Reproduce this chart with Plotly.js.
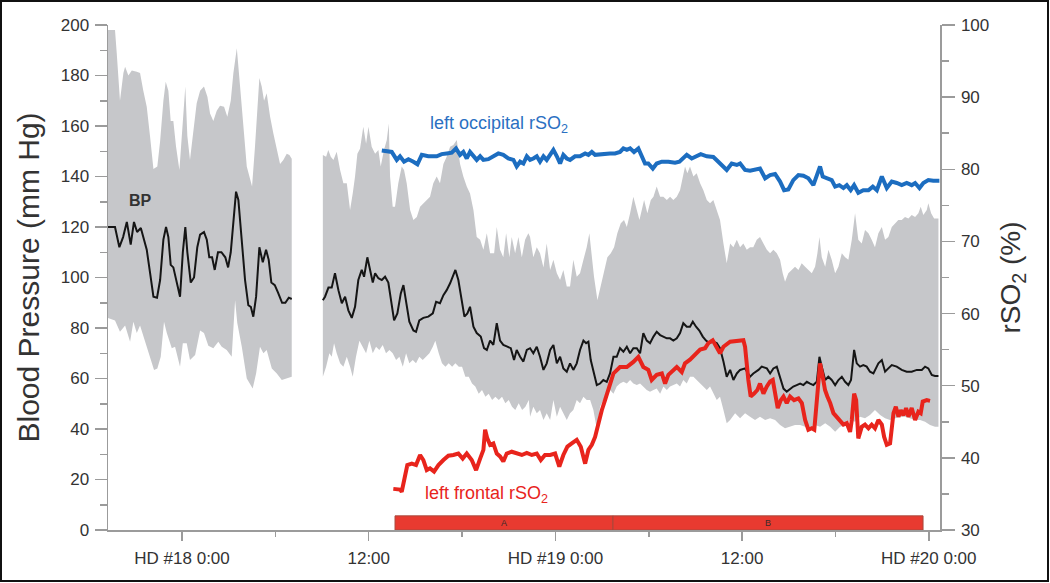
<!DOCTYPE html>
<html><head><meta charset="utf-8">
<script src="https://cdn.plot.ly/plotly-3.0.1.min.js"></script>
<style>
html,body{margin:0;padding:0;background:#fff;}
#wrap{position:relative;width:1050px;height:583px;}
#chart{width:1050px;height:583px;}
#frame{position:absolute;left:0;top:0;width:1049px;height:582px;border:2.5px solid #111;box-sizing:border-box;pointer-events:none;}
</style>
</head><body>
<div id="wrap"><div id="chart"></div><div id="frame"></div></div>
<script>
// Time in hours relative to HD #18 0:00
// ---- Blood pressure (mean), segment 1 ----
const bp1T = [-4.76,-4.31,-4.03,-3.79,-3.55,-3.30,-3.09,-2.89,-2.65,-2.51,-2.27,-2.06,-1.84,-1.61,-1.41,-1.20,-1.03,-0.88,-0.73,-0.56,-0.34,-0.13,0.05,0.21,0.34,0.56,0.77,0.98,1.16,1.41,1.59,1.75,1.93,2.10,2.31,2.53,2.78,2.96,3.13,3.30,3.47,3.62,3.84,4.05,4.26,4.42,4.58,4.76,4.97,5.19,5.40,5.57,5.74,5.96,6.17,6.43,6.64,6.86,7.05];
const bp1V = [120,120,112,116,122,113,122,118,119.6,116,111,102,92.4,92,99,115,120,116,105,104,98,92.4,110,120,110,98,100,112,117,118,115,108,108,103,110,110,108,104,110,123,134,130.7,115,99,89,88.4,84.5,92.4,112,106,111,107,98,97,94,90,90,92,91.5];
// ---- Blood pressure (mean), segment 2 ----
const bp2T = [9.05,9.19,9.41,9.62,9.83,10.05,10.27,10.48,10.69,10.91,11.12,11.33,11.55,11.70,11.91,12.08,12.26,12.41,12.62,12.84,13.05,13.26,13.48,13.63,13.84,14.06,14.23,14.40,14.61,14.87,15.04,15.25,15.51,15.83,16.12,16.33,16.58,16.80,17.01,17.23,17.40,17.57,17.76,17.98,18.15,18.34,18.51,18.73,18.94,19.20,19.41,19.59,19.80,20.01,20.23,20.44,20.65,20.91,21.13,21.34,21.51,21.73,21.94,22.16,
  22.37,22.58,22.80,23.01,23.23,23.44,23.66,23.87,24.09,24.30,24.51,24.73,24.94,25.15,25.37,25.58,25.80,25.97,26.12,26.27,26.48,26.66,26.87,27.08,27.30,27.51,27.73,27.94,28.15,28.37,28.59,28.80,29.01,29.23,29.44,29.65,29.87,30.08,30.30,30.51,30.73,30.94,31.16,31.37,31.58,31.80,32.01,32.22,32.44,32.65,32.83,33.04,33.25,33.47,33.68,33.90,34.11,34.37,34.58,34.80,35.01,35.23,35.44,35.66,35.87,
  36.19,36.51,36.72,37.05,37.26,37.59,37.80,38.01,38.23,38.44,38.66,38.87,39.08,39.29,39.51,39.73,39.94,40.16,40.37,40.58,40.80,40.97,41.12,41.34,41.54,41.76,41.98,42.19,42.41,42.62,42.83,43.00,43.20,43.37,43.58,43.79,44.01,44.22,44.44,44.76,44.98,45.19,45.40,45.62,45.94,46.26,46.58,46.90,47.23,47.55,47.76,47.97,48.19,48.40,48.62];
const bp2V = [91,92.4,96,96,101.7,95,89.8,92.4,87,84,88.4,99,103,100.3,108,103,98,101.7,99.7,99,100.3,98,88.4,83,85.8,93.7,97,89.8,82.5,79,78.5,83,84,84.5,85.8,90.4,89.8,93,95,97.7,100.3,103,99,91,84.5,85.8,88.4,80.5,78,76.6,72,71.3,75,73.3,81.9,75,73.3,72.6,72,67.3,71.3,68.6,66.7,71.3,
  72,70,72.6,68.6,63.4,66,71.3,73.3,66,68.6,64,62.7,66,63.4,66,71.3,75,74,74.6,67.3,62,57.4,58,59.4,58.7,62,68.6,68.6,72,70.6,72.6,70,72,72,70,78,75,74,76.6,78.5,77.2,76.6,75.9,75.9,75,75.9,78,81.9,80.5,80.5,82.5,80.5,79,76.6,75,74,74.6,74,72,66.7,60.7,63.4,59.4,62,63.4,
  64,60.7,62,63.4,64.7,64,62,64,64.7,60.7,56,54.8,56,56.8,57.4,58,57.4,58.7,58,57.4,58.7,68.6,64.7,59.4,60.7,59.4,57.4,59.4,60.7,58.7,57.4,59.4,71.3,66,64.7,65.3,64.7,62.7,62,66,67.3,62.7,64,65.3,64.7,63.4,62.7,62.7,63.4,63.4,64.7,64,61.4,61,61];

// ---- BP range band (grey), segment 1 ----
const band1UpT = [-4.76,-4.31,-4.20,-3.99,-3.77,-3.66,-3.45,-3.23,-2.91,-2.70,-2.49,-2.27,-2.06,-1.84,-1.59,-1.41,-1.20,-1.05,-0.88,-0.73,-0.56,-0.39,-0.17,0.05,0.21,0.34,0.51,0.69,0.94,1.16,1.41,1.63,1.80,2.01,2.23,2.44,2.70,2.91,3.13,3.30,3.52,3.73,3.94,4.16,4.33,4.50,4.69,4.97,5.12,5.27,5.44,5.66,5.87,6.09,6.30,6.51,6.73,6.90,7.05];
const band1Up = [198,198,189,170,181,183.5,180,182,181.5,181,174,167.6,156,143,144,154,170,177.5,174,162,162,152,142.6,162,175.6,156,146.5,156,169,174,175.6,171.6,165,162,166,168,167.6,163.7,170,181,190.8,175.6,160,144,140,136,152,179,175.6,170,173,163.7,157,150.5,145,146.5,149,148.5,147];
const band1LoT = [-4.76,-4.31,-3.99,-3.66,-3.34,-3.13,-2.91,-2.70,-2.38,-2.06,-1.80,-1.59,-1.37,-1.16,-0.98,-0.66,-0.45,-0.13,0.05,0.30,0.51,0.84,1.16,1.41,1.69,2.01,2.33,2.55,2.87,3.19,3.41,3.55,3.84,4.16,4.37,4.54,4.76,5.01,5.23,5.44,5.77,6.09,6.41,6.73,7.05];
const band1Lo = [84,83,78.5,81,74.6,82.5,78,81,75,68.6,63.4,64,68.6,82.5,78,72,72.6,64.7,74,74,67.3,69.3,79,78,73,72,74.6,72.6,71.3,68.6,91,82,72.6,60,58,56,62,72.6,70,71.3,64,62,59.4,60,60.7];

// ---- BP range band (grey), segment 2 ----
const band2UpT = [9.05,9.26,9.40,9.56,9.73,9.94,10.16,10.37,10.59,10.80,10.97,11.12,11.27,11.44,11.65,11.83,11.98,12.19,12.41,12.62,12.77,12.98,13.16,13.29,13.37,13.54,13.69,13.90,14.12,14.27,14.44,14.66,14.87,15.09,15.30,15.51,15.73,15.94,16.15,16.37,16.58,16.80,17.01,17.23,17.44,17.66,17.87,18.08,18.30,18.51,18.73,18.94,19.16,19.37,19.59,19.80,20.06,20.23,20.44,20.65,20.83,21.04,21.19,21.41,21.62,21.84,22.05,22.26,
  22.37,22.58,22.80,23.01,23.23,23.44,23.66,23.87,24.09,24.30,24.51,24.73,24.94,25.15,25.37,25.58,25.80,26.01,26.18,26.34,26.48,26.70,26.91,27.13,27.34,27.56,27.77,27.98,28.20,28.41,28.59,28.80,29.01,29.23,29.40,29.55,29.70,29.91,30.13,30.30,30.51,30.73,30.94,31.16,31.37,31.58,31.80,32.01,32.19,32.33,32.48,32.65,32.87,33.08,33.30,33.51,33.73,33.94,34.15,34.37,34.58,34.80,35.01,
  35.23,35.44,35.66,35.87,36.08,36.30,36.51,36.72,36.94,37.15,37.37,37.59,37.80,38.01,38.23,38.44,38.61,38.76,38.97,39.19,39.40,39.62,39.83,40.05,40.26,40.48,40.69,40.84,40.97,41.12,41.34,41.55,41.76,41.98,42.19,42.41,42.62,42.83,43.05,43.26,43.47,43.69,43.90,44.12,44.33,44.54,44.76,44.98,45.19,45.40,45.62,45.83,46.04,46.26,46.47,46.69,46.90,47.12,47.33,47.48,47.65,47.87,47.97,48.15,48.34,48.62];
const band2Up = [148.5,147.8,150.5,147.8,146.5,149.8,142.6,137.3,137.3,126.7,133.3,140,149,151,159.7,153,159.7,151.8,149,150.5,144,150.5,154.5,161,140,128,128,137.3,144,142.6,137.3,126.7,122.8,124,128,129.4,130.7,132,137.3,140,137.3,145,147.8,151.8,152.5,154.5,145,140,136,133.3,126.7,116,115,111,117.5,109.6,109.6,120,111,108,117.5,108,116,109.6,116,108,115,117.5,
  116,108,112,109.6,104,113.5,103,107,101.7,99,103,96.4,96.4,107,100.3,101.7,107,112,117.5,108,100.3,91,96.4,103,108,109.6,112,117.5,121.5,122.8,120,125.4,132,126.7,122.8,126.7,130.7,125.4,130.7,132,136,132,132,130.7,132,130.7,132,134.6,140,144,141.3,144,140,141.3,137.3,134.6,130.7,129.4,130.7,126.7,122.8,113.5,105.6,
  113.5,112,115,112,113.5,111,112,112,115,116,113.5,111,109.6,111,109.6,107,101.7,98.3,101.7,103,104.3,103,105.6,104.3,103,101.7,104.3,109.6,116,108,104.3,111,107,101.7,104.3,109.6,108,107,115,125.4,115,113.5,118.8,117.5,115,112,117.5,120,115,116,120,121.5,122.8,122.8,124,123.4,124.8,124,125.4,128,124.8,126.7,129.4,125.4,123.4,123.4];
const band2LoT = [9.05,9.26,9.47,9.62,9.77,9.94,10.16,10.37,10.59,10.80,10.97,11.18,11.40,11.62,11.83,12.04,12.26,12.47,12.68,12.90,13.11,13.33,13.54,13.76,13.97,14.19,14.40,14.61,14.83,15.04,15.25,15.47,15.68,15.90,16.12,16.28,16.50,16.71,16.93,17.14,17.36,17.57,17.79,18.00,18.21,18.43,18.64,18.85,19.07,19.28,19.50,19.71,19.93,20.14,20.36,20.57,20.78,21.00,21.21,21.42,21.64,21.86,22.07,22.29,
  22.37,22.58,22.80,23.01,23.23,23.44,23.66,23.87,24.09,24.30,24.51,24.73,24.94,25.15,25.37,25.58,25.80,26.01,26.23,26.44,26.66,26.87,27.08,27.30,27.51,27.73,27.94,28.15,28.37,28.59,28.80,29.01,29.23,29.44,29.65,29.87,30.08,30.30,30.51,30.73,30.94,31.16,31.37,31.58,31.80,32.01,32.22,32.44,32.65,32.87,33.08,33.30,33.51,33.73,33.94,34.15,34.37,34.58,34.80,35.01,
  35.23,35.55,35.87,36.19,36.51,36.83,37.15,37.48,37.80,38.12,38.44,38.76,39.08,39.40,39.73,40.05,40.37,40.69,41.01,41.34,41.66,41.98,42.30,42.62,42.94,43.26,43.58,43.90,44.22,44.54,44.87,45.19,45.51,45.83,46.15,46.47,46.79,47.12,47.44,47.76,48.08,48.40,48.62];
const band2Lo = [60.7,64.7,70,68.6,74,70,66,64.7,68.6,64.7,60.7,68.6,75,72.6,70,75,70,72.6,71.3,73.3,70,71.3,70,67.3,68.6,64.7,70,66,67.3,66,68.6,67.3,68.6,70,72.6,75,70,66,64.7,66,64.7,66,64.7,64.7,60.7,60.7,58,56.8,54,55.4,52.8,54,51.5,52.8,51.5,52.8,50.2,51.5,48.8,47.5,50.2,47.5,48.8,51.5,
  44.9,48.8,46.2,47.5,43.6,46.2,43.6,51.5,44.9,48.8,46.2,43.6,46.2,47.5,51.5,50.2,52.8,51.5,51.5,47.5,40,48.8,51.5,54,55.4,54,56.8,58,58.7,58,59.4,58,57.4,58,56.8,55.4,54.8,55.4,56,54,56.8,55.4,56.8,57.4,58,56.8,59.4,58,60.7,60.7,59.4,58,56.8,55.4,56.8,54,51.5,52.8,47.5,42.3,
  43.6,46.2,44.3,46.2,44.9,43.6,44.9,43.6,44.3,43.6,41.6,40.3,40.9,41.6,41.6,40.9,40.3,41.6,40.9,42.3,40.9,38.9,40.9,41.6,43.6,42.9,44.9,44.3,45.5,47.5,45.5,44.3,43.6,44.3,44.9,44.9,44.3,43.6,43.6,42.9,41.6,40.9,40.9];

// ---- Left occipital rSO2 (%) ----
const occT = [12.84,13.48,13.80,14.01,14.27,14.55,14.87,15.13,15.41,15.83,16.37,16.69,17.01,17.34,17.61,17.87,18.08,18.30,18.51,18.73,18.94,19.16,19.37,19.69,20.01,20.33,20.65,20.97,21.30,21.51,21.73,21.94,22.16,22.37,22.58,22.80,23.01,23.23,23.44,23.66,23.87,24.09,24.30,24.51,24.73,24.94,25.26,25.58,25.91,26.12,26.34,26.55,26.87,27.19,27.51,27.83,28.15,28.37,28.59,28.80,29.05,29.33,29.55,29.76,29.97,30.26,30.51,30.84,31.26,31.69,31.97,
  32.44,32.76,33.08,33.34,33.73,34.15,34.47,34.80,35.01,35.33,35.66,35.87,36.19,36.51,36.83,37.15,37.48,37.80,38.12,38.44,38.70,38.97,39.29,39.62,39.94,40.26,40.58,40.80,41.01,41.18,41.44,41.76,41.98,42.25,42.51,42.73,42.98,43.20,43.47,43.79,44.12,44.40,44.66,44.98,45.30,45.62,45.94,46.26,46.58,46.90,47.12,47.40,47.65,47.97,48.29,48.68];
const occV = [82.6,82.4,81.3,81.8,81.05,81.4,81.05,80.7,82,81.8,81.8,82.1,82.2,82.3,82.9,82,82.4,81.5,82.4,81.8,81.3,81.8,81.3,81.4,81.8,82.2,82,81.5,81.3,80.4,81.05,80.8,81.8,81.3,81.5,81.8,81.05,81.8,81.3,82,82.7,81.8,80.8,82,81.5,81.3,81.8,81.8,82.2,82,82.4,82,82.1,82.1,82.2,82.2,82.4,82.9,82.7,82.9,82.4,82.9,81.8,80.8,80.8,80.1,80.8,81.05,81.05,80.9,81.05,
  82,81.5,81.8,82.1,81.8,81.7,81.05,80.4,79.9,80.8,80.6,80.8,79.9,79.8,79.9,80.1,78.75,79.2,79.35,78.3,77.1,77.2,78.5,79.2,79.1,78.75,77.8,79,80.4,79,78.75,78.5,77.6,77.8,77.4,77.8,77.1,77.8,76.75,77.1,77.1,77.6,77.1,79,77.4,78.3,78.1,77.8,78.1,77.8,78.1,77.4,78.1,78.5,78.4,78.4];

// ---- Left frontal rSO2 (%) ----
const frT = [13.58,14.01,14.12,14.33,14.48,14.77,15.04,15.30,15.51,15.73,15.94,16.20,16.48,16.80,17.12,17.44,17.76,18.04,18.30,18.62,18.90,19.16,19.37,19.48,19.62,19.80,20.01,20.23,20.44,20.65,20.87,21.19,21.51,21.84,22.16,22.48,22.80,23.06,23.33,23.66,23.98,24.25,24.51,24.77,25.05,25.37,25.63,25.91,26.12,26.34,26.55,26.76,26.98,27.19,27.40,27.62,
  27.73,28.15,28.59,29.01,29.33,29.65,29.97,30.19,30.51,30.84,31.05,31.26,31.58,31.80,32.12,32.33,32.65,32.98,33.30,33.62,33.83,34.11,34.37,34.58,34.80,35.12,
  35.23,36.08,36.19,36.40,36.55,36.77,36.98,37.15,37.37,37.59,37.80,37.97,38.12,38.29,38.49,38.66,38.87,39.08,39.34,39.62,39.84,40.05,40.26,40.48,40.64,40.75,40.90,41.01,41.18,41.33,41.48,41.66,41.87,42.09,42.30,42.51,42.73,42.94,43.05,43.20,43.33,43.47,43.69,43.90,44.12,44.33,44.54,44.76,44.98,45.13,45.30,45.51,45.73,45.88,46.05,46.20,46.37,46.54,46.69,46.90,47.12,47.33,47.48,47.61,47.87,48.08];
const frV = [35.7,35.6,35.3,37.4,39,39.2,39,40.4,39.7,38.3,38.55,38.1,39,39.7,40.3,40.4,40.6,39.9,40.6,39.7,38.3,39.9,41.1,43.9,42.7,41.8,42,40.6,40.2,39.5,40.6,40.85,40.6,40.4,40.7,40.4,40.6,39.7,40.4,40.4,40.6,38.8,40.4,41.55,42,42.5,41.55,39.2,41.1,41.8,42.9,44.8,46.6,48,49.4,51.25,
  51.7,52.6,52.6,53.3,54,52.6,52.2,50.8,51.5,51.7,50.3,51.5,52.2,52.6,51.9,53.1,53.6,54.3,55,55.2,55.9,56.3,55.4,54.5,55.4,56,
  56.1,56.3,55.4,50.8,48.5,48.9,49.4,50.3,48.9,49.9,50.6,50.8,48.9,46.9,48,48.5,47.6,48.5,48,48.25,47.6,45.25,43.9,44.1,43.9,46.6,51.7,53.1,51.25,49.4,48.5,47.6,46.2,45.7,45.25,44.6,44.8,43.6,45.25,48.9,48,42.7,44.3,44.6,44.1,44.6,44.1,45.25,44.6,42.9,41.8,42,46.2,47.1,45.7,46.6,45.9,46.9,45.7,46.9,45.25,46.4,46.2,47.8,48,47.9];

// ---- Treatment phase bar ----
const phaseLabels = ['A', 'B'];
const phaseStart = [13.69, 27.70];
const phaseEnd = [27.70, 47.63];

// ---- Axis ticks ----
const xTickVals = [0, 12, 24, 36, 48];
const xTickText = ['HD #18 0:00', '12:00', 'HD #19 0:00', '12:00', 'HD #20 0:00'];
const xMinorVals = [6, 18, 30, 42];

const FONT = 'Liberation Sans, Arial, Helvetica, sans-serif';
const AX = '#9b9b9b';
const GREY = '#c6c7ca';

function polygon(upT, up, loT, lo) {
  return {
    x: upT.concat(loT.slice().reverse()),
    y: up.concat(lo.slice().reverse())
  };
}
const p1 = polygon(band1UpT, band1Up, band1LoT, band1Lo);
const p2 = polygon(band2UpT, band2Up, band2LoT, band2Lo);

const traces = [
  {x: p1.x, y: p1.y, type: 'scatter', mode: 'lines', fill: 'toself', fillcolor: GREY, line: {width: 0, color: GREY}, hoverinfo: 'skip'},
  {x: p2.x, y: p2.y, type: 'scatter', mode: 'lines', fill: 'toself', fillcolor: GREY, line: {width: 0, color: GREY}, hoverinfo: 'skip'},
  {x: bp1T.concat([null], bp2T), y: bp1V.concat([null], bp2V), type: 'scatter', mode: 'lines', line: {color: '#151515', width: 2}, connectgaps: false},
  {x: occT, y: occV, yaxis: 'y2', type: 'scatter', mode: 'lines', line: {color: '#1c6dc0', width: 4}},
  {x: frT, y: frV, yaxis: 'y2', type: 'scatter', mode: 'lines', line: {color: '#e8241c', width: 4}}
];

const shapes = phaseLabels.map((p, i) => ({
  type: 'rect', xref: 'x', yref: 'y', x0: phaseStart[i], x1: phaseEnd[i], y0: 0, y1: 5.6,
  fillcolor: '#e83a30', line: {color: '#a8483c', width: 1}, layer: 'above'
}));

const annotations = phaseLabels.map((p, i) => ({
  x: (phaseStart[i] + phaseEnd[i]) / 2, y: 2.8, xref: 'x', yref: 'y', text: p, showarrow: false,
  font: {family: FONT, size: 9, color: '#3a2a2a'}
})).concat([
  {x: -2.7, y: 130.5, xref: 'x', yref: 'y', text: '<b>BP</b>', showarrow: false, font: {family: FONT, size: 16, color: '#333'}},
  {x: 20.38, y: 160.4, xref: 'x', yref: 'y', text: 'left occipital rSO<sub>2</sub>', showarrow: false, font: {family: FONT, size: 18, color: '#2a70c2'}},
  {x: 19.6, y: 13.9, xref: 'x', yref: 'y', text: 'left frontal rSO<sub>2</sub>', showarrow: false, font: {family: FONT, size: 18, color: '#e8241c'}}
]);

const layout = {
  width: 1050, height: 583,
  margin: {l: 108, r: 110, t: 25, b: 53, pad: 0},
  paper_bgcolor: '#fff', plot_bgcolor: '#fff',
  showlegend: false,
  font: {family: FONT, color: '#333'},
  xaxis: {
    range: [-4.76, 48.72], showgrid: false, zeroline: false,
    showline: true, linecolor: AX, linewidth: 1.5,
    tickmode: 'array', tickvals: xTickVals, ticktext: xTickText,
    ticks: 'outside', ticklen: 9, tickcolor: AX, tickwidth: 1.5,
    ticklabelstandoff: 3,
    tickfont: {family: FONT, size: 17, color: '#333'},
    minor: {tickmode: 'array', tickvals: xMinorVals, ticks: 'outside', ticklen: 5, tickcolor: AX, tickwidth: 1.5, showgrid: false}
  },
  yaxis: {
    range: [0, 200], showgrid: false, zeroline: false,
    showline: true, linecolor: AX, linewidth: 1.5,
    tickmode: 'linear', tick0: 0, dtick: 20,
    ticks: 'outside', ticklen: 12, tickcolor: AX, tickwidth: 1.5,
    ticklabelstandoff: 2,
    tickfont: {family: FONT, size: 17, color: '#333'},
    minor: {dtick: 10, ticks: 'outside', ticklen: 7, tickcolor: AX, tickwidth: 1.5, showgrid: false},
    title: {text: 'Blood Pressure (mm Hg)', font: {family: FONT, size: 30, color: '#333'}, standoff: 12}
  },
  yaxis2: {
    range: [30, 100], overlaying: 'y', side: 'right', showgrid: false, zeroline: false,
    showline: true, linecolor: AX, linewidth: 1.5,
    tickmode: 'linear', tick0: 30, dtick: 10,
    ticks: 'outside', ticklen: 13, tickcolor: AX, tickwidth: 1.5,
    ticklabelstandoff: 3,
    tickfont: {family: FONT, size: 17, color: '#333'},
    minor: {dtick: 5, ticks: 'outside', ticklen: 7, tickcolor: AX, tickwidth: 1.5, showgrid: false},
    title: {text: 'rSO<sub>2</sub> (%)', font: {family: FONT, size: 28, color: '#333'}, standoff: 12}
  },
  shapes: shapes,
  annotations: annotations
};

Plotly.newPlot('chart', traces, layout, {displayModeBar: false, staticPlot: true});
</script>
</body></html>
